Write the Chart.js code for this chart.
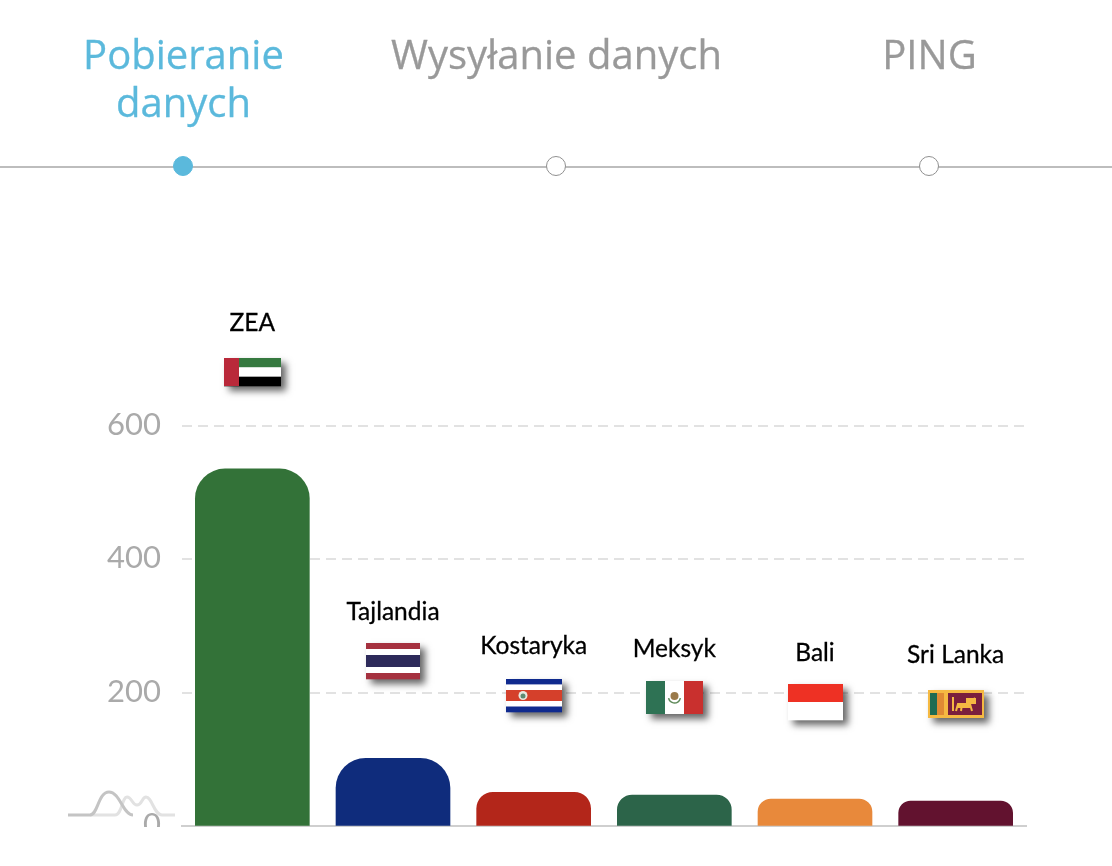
<!DOCTYPE html>
<html lang="pl">
<head>
<meta charset="utf-8">
<title>Pobieranie danych</title>
<script src="https://cdn.jsdelivr.net/npm/chart.js@4"></script>
<style>
  html, body { margin: 0; padding: 0; background: #fff; width: 1112px; height: 866px; overflow: hidden; }
  .tab { position: absolute; top: 30px; width: 373px; text-align: center; white-space: nowrap; font: 40px/48px "Open Sans", sans-serif; color: #999; -webkit-text-stroke: 0.3px currentColor; }
  .tab.active { color: #5bb9dc; }
  .rule { position: absolute; left: 0; top: 166px; width: 1112px; height: 2px; background: #bdbdbd; }
  .dot { position: absolute; top: 156px; width: 18.4px; height: 18.4px; margin-left: -11px; border: 1.8px solid #909090; border-radius: 50%; background: #fff; }
  .dot.active { background: #5bb9dc; border-color: #5bb9dc; }
  .plot { position: absolute; left: 0; top: 0; width: 1112px; height: 827px; overflow: hidden; }
  canvas { display: block; }
  .wave { position: absolute; left: 60px; top: 780px; }
</style>
</head>
<body>
<div class="plot"><canvas id="speedChart" width="1112" height="866"></canvas></div>
<div class="tab active" style="left:-3px">Pobieranie<br>danych</div>
<div class="tab" style="left:370px">Wysyłanie danych</div>
<div class="tab" style="left:743px">PING</div>
<div class="rule"></div>
<div class="dot active" style="left:183.5px"></div>
<div class="dot" style="left:556.5px"></div>
<div class="dot" style="left:929.5px"></div>
<svg class="wave" width="125" height="45" fill="none" stroke-width="3">
  <path d="M30 35 H55 C62 35 62 17 67 17 C72 17 72 25 77 25 C82 25 82 17 86 17 C92 17 94 35 102 35 H115" stroke="#e2e2e2"/>
  <path d="M8 35 H30 C38 35 38 12 49 12 C60 12 63 35 73 35" stroke="#c4c4c4"/>
</svg>

<script>
// ══ DATA ═══════════════════════════════════════════════════════
const countries = ['ZEA', 'Tajlandia', 'Kostaryka', 'Meksyk', 'Bali', 'Sri Lanka'];
const download = [535, 102, 51, 47, 41, 38];
const barColors = ['#337238', '#0f2c7c', '#b3261a', '#2c6449', '#e8893b', '#62122f'];
const yTicks = [0, 200, 400, 600];

// ══ FLAGS ══════════════════════════════════════════════════════
function bands(ctx, x, y, w, h, rows) {
  const total = rows.reduce((sum, r) => sum + r[1], 0);
  let top = y;
  rows.forEach(r => {
    const bandH = h * r[1] / total;
    ctx.fillStyle = r[0];
    ctx.fillRect(x, top, w, bandH + 0.3);
    top += bandH;
  });
}

const flags = {
  'ZEA': { w: 57, h: 28, draw(ctx, x, y, w, h) {
    bands(ctx, x, y, w, h, [['#35793f', 1], ['#fff', 1], ['#000', 1]]);
    ctx.fillStyle = '#b9293a';
    ctx.fillRect(x, y, 15, h);
  } },
  'Tajlandia': { w: 54, h: 36, draw(ctx, x, y, w, h) {
    bands(ctx, x, y, w, h, [['#a5313f', 1], ['#fff', 1], ['#2d2a5a', 2], ['#fff', 1], ['#a5313f', 1]]);
  } },
  'Kostaryka': { w: 56, h: 33, draw(ctx, x, y, w, h) {
    bands(ctx, x, y, w, h, [['#0f2a8e', 1], ['#fff', 1], ['#d5402b', 2], ['#fff', 1], ['#0f2a8e', 1]]);
    ctx.fillStyle = '#e8e8e0';
    ctx.beginPath(); ctx.arc(x + 17, y + h / 2, 4.5, 0, Math.PI * 2); ctx.fill();
    ctx.fillStyle = '#5d8a72';
    ctx.beginPath(); ctx.arc(x + 17, y + h / 2 + 0.5, 2.5, 0, Math.PI * 2); ctx.fill();
  } },
  'Meksyk': { w: 57, h: 33, draw(ctx, x, y, w, h) {
    ctx.fillStyle = '#2e7254'; ctx.fillRect(x, y, 19, h);
    ctx.fillStyle = '#fff'; ctx.fillRect(x + 19, y, 19, h);
    ctx.fillStyle = '#c9302e'; ctx.fillRect(x + 38, y, 19, h);
    ctx.fillStyle = '#9a7a4a';
    ctx.beginPath(); ctx.arc(x + 28.5, y + 15, 4, 0, Math.PI * 2); ctx.fill();
    ctx.strokeStyle = '#5f8a5a'; ctx.lineWidth = 1.5;
    ctx.beginPath(); ctx.arc(x + 28.5, y + 16, 6, 0.2, Math.PI - 0.2); ctx.stroke();
  } },
  'Bali': { w: 55, h: 36, draw(ctx, x, y, w, h) {
    bands(ctx, x, y, w, h, [['#ee3124', 1], ['#fff', 1]]);
  } },
  'Sri Lanka': { w: 56, h: 28, draw(ctx, x, y, w, h) {
    ctx.fillStyle = '#f5b942'; ctx.fillRect(x, y, w, h);
    ctx.fillStyle = '#1f6b52'; ctx.fillRect(x + 2, y + 3, 7, h - 6);
    ctx.fillStyle = '#e08a34'; ctx.fillRect(x + 9, y + 3, 7, h - 6);
    ctx.fillStyle = '#7a1f3d'; ctx.fillRect(x + 20, y + 3, 34, h - 6);
    // lion, very rough at this size
    ctx.strokeStyle = '#f5b942'; ctx.lineWidth = 2;
    ctx.beginPath();
    ctx.moveTo(x + 28, y + 21); ctx.lineTo(x + 30, y + 14); ctx.lineTo(x + 42, y + 14);
    ctx.lineTo(x + 47, y + 8); ctx.moveTo(x + 42, y + 14); ctx.lineTo(x + 44, y + 21);
    ctx.moveTo(x + 34, y + 14); ctx.lineTo(x + 33, y + 21);
    ctx.moveTo(x + 25, y + 7); ctx.lineTo(x + 25, y + 21);
    ctx.stroke();
    ctx.fillStyle = '#f5b942';
    ctx.fillRect(x + 38, y + 8, 10, 6);
    ctx.fillRect(x + 30, y + 13, 12, 5);
  } }
};

// labels and flags ride above each bar
const flagLabels = {
  id: 'flagLabels',
  afterDatasetsDraw(chart) {
    const { ctx } = chart;
    chart.getDatasetMeta(0).data.forEach((bar, i) => {
      const name = countries[i];
      const flag = flags[name];
      const fx = Math.round(bar.x - flag.w / 2);
      const fy = Math.round(bar.y - 97 - flag.h / 2);

      ctx.save();
      ctx.shadowColor = 'rgba(0,0,0,0.6)';
      ctx.shadowBlur = 7;
      ctx.shadowOffsetX = 5;
      ctx.shadowOffsetY = 5;
      ctx.fillStyle = '#fff';
      ctx.fillRect(fx, fy, flag.w, flag.h);
      ctx.restore();
      flag.draw(ctx, fx, fy, flag.w, flag.h);

      ctx.save();
      ctx.fillStyle = '#000';
      ctx.strokeStyle = '#000';
      ctx.lineWidth = 0.3;
      ctx.font = '24.5px Lato';
      ctx.textAlign = 'center';
      ctx.textBaseline = 'middle';
      ctx.fillText(name, bar.x, bar.y - 146);
      ctx.strokeText(name, bar.x, bar.y - 146);
      ctx.restore();
    });
  }
};

// ══ CHART ══════════════════════════════════════════════════════
new Chart(document.getElementById('speedChart'), {
  type: 'bar',
  data: {
    labels: countries,
    datasets: [{
      data: download,
      backgroundColor: barColors,
      barThickness: 114,
      borderRadius: { topLeft: 30, topRight: 30, bottomLeft: 0, bottomRight: 0 },
      borderSkipped: 'bottom'
    }]
  },
  options: {
    responsive: false,
    animation: false,
    layout: { padding: { top: 425.5, right: 86, bottom: 39.5, left: 0 } },
    plugins: { legend: { display: false }, tooltip: { enabled: false } },
    scales: {
      x: {
        afterFit(scale) { scale.height = 0; },
        grid: { display: false },
        ticks: { display: false },
        border: { display: true, color: '#cfcfcf', width: 2 }
      },
      y: {
        min: 0,
        max: 600,
        afterFit(scale) { scale.width = 182; },
        afterBuildTicks(scale) { scale.ticks = yTicks.map(v => ({ value: v })); },
        grid: {
          drawTicks: false,
          color: c => c.tick && c.tick.value === 0 ? 'rgba(0,0,0,0)' : '#e2e2e2',
          lineWidth: 2
        },
        border: { display: false, dash: [10, 6] },
        ticks: { color: '#aaa', padding: 21, labelOffset: -1, font: { family: 'Lato', size: 31 } }
      }
    }
  },
  plugins: [flagLabels]
});
</script>
</body>
</html>
